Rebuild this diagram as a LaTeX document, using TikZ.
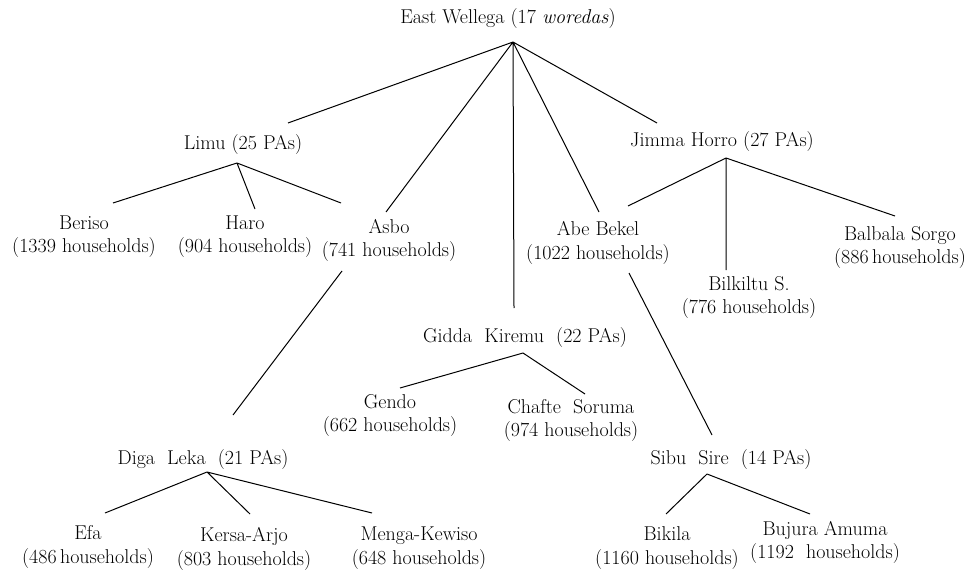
\documentclass[tikz,border=0pt]{standalone}
\usepackage{tikz}
\usetikzlibrary{positioning}

\tikzset{
  woreda/.style={align=center, inner sep=1pt, font=\fontsize{20}{23.5}\selectfont},
  branch/.style={line width=1pt}
}

\begin{document}
\begin{tikzpicture}[x=1pt, y=-1pt]
      \useasboundingbox (0, 0) rectangle (979, 572);
      % zone and woredas
      \node[woreda] (east) at (508, 19) {East Wellega (17 \textit{woredas})};
      \node[woreda] (limu) at (243, 145) {Limu (25 PAs)};
      \node[woreda] (jimma) at (722, 142) {Jimma Horro (27 PAs)};
      \node[woreda] (gidda) at (525, 338) {Gidda~~Kiremu~~(22 PAs)};
      \node[woreda] (diga) at (203, 460) {Diga~~Leka~~(21 PAs)};
      \node[woreda] (sibu) at (731, 460) {Sibu~~Sire~~(14 PAs)};
      % kebeles
      \node[woreda] (beriso) at (84, 236.5) {Beriso\\(1339 households)};
      \node[woreda] (haro) at (245, 236.5) {Haro\\(904 households)};
      \node[woreda] (asbo) at (389, 240.5) {Asbo\\(741 households)};
      \node[woreda] (abe) at (598, 243) {Abe Bekel\\(1022 households)};
      \node[woreda] (bilkiltu) at (749, 297.5) {Bilkiltu S.\\(776 households)};
      \node[woreda] (balbala) at (900, 247.5) {Balbala Sorgo\\(886\,households)};
      \node[woreda] (gendo) at (390, 415.5) {Gendo\\(662 households)};
      \node[woreda] (chafte) at (571, 420.5) {Chafte~~Soruma\\(974 households)};
      \node[woreda] (efa) at (88, 547) {Efa\\(486\,households)};
      \node[woreda] (kersa) at (244, 549) {Kersa-Arjo\\(803 households)};
      \node[woreda] (menga) at (419, 548) {Menga-Kewiso\\(648 households)};
      \node[woreda] (bikila) at (667, 548) {Bikila\\(1160 households)};
      \node[woreda] (bujura) at (825, 542.5) {Bujura Amuma\\(1192~~households)};
      % forks
      \coordinate (eastfork) at (513, 42);
      \coordinate (limufork) at (237, 163);
      \coordinate (jimmafork) at (726, 158);
      \coordinate (giddafork) at (523, 353);
      \coordinate (digafork) at (207, 472);
      \coordinate (sibufork) at (707, 474);
      \draw[branch] (eastfork) -- ([xshift=45pt, yshift=22pt]limu.center)
            (eastfork) -- ([xshift=-3pt, yshift=28.5pt]asbo.center)
            (eastfork) -- ([xshift=-11pt, yshift=30pt]gidda.center)
            (eastfork) -- ([xshift=1pt, yshift=31pt]abe.center)
            (eastfork) -- ([xshift=-65pt, yshift=19pt]jimma.center);
      \draw[branch] (limufork) -- ([xshift=29pt, yshift=33.5pt]beriso.center)
            (limufork) -- ([xshift=10pt, yshift=27.5pt]haro.center)
            (limufork) -- ([xshift=-48pt, yshift=37.5pt]asbo.center);
      \draw[branch] (jimmafork) -- ([xshift=30pt, yshift=37pt]abe.center)
            (jimmafork) -- ([xshift=-23pt, yshift=27.5pt]bilkiltu.center)
            (jimmafork) -- ([xshift=-5pt, yshift=31.5pt]balbala.center);
      \draw[branch] (giddafork) -- ([xshift=10pt, yshift=27.5pt]gendo.center)
            (giddafork) -- ([xshift=14pt, yshift=26.5pt]chafte.center);
      \draw[branch] (digafork) -- ([xshift=17pt, yshift=34pt]efa.center)
            (digafork) -- ([xshift=6pt, yshift=35pt]kersa.center)
            (digafork) -- ([xshift=-47pt, yshift=35pt]menga.center);
      \draw[branch] (sibufork) -- ([xshift=-1pt, yshift=34pt]bikila.center)
            (sibufork) -- ([xshift=-15pt, yshift=28.5pt]bujura.center);
      \draw[branch] ([xshift=-47pt, yshift=-30.5pt]asbo.center) -- ([xshift=30pt, yshift=45pt]diga.center);
      \draw[branch] ([xshift=31pt, yshift=-30pt]abe.center) -- ([xshift=-19pt, yshift=25pt]sibu.center);
\end{tikzpicture}
\end{document}
